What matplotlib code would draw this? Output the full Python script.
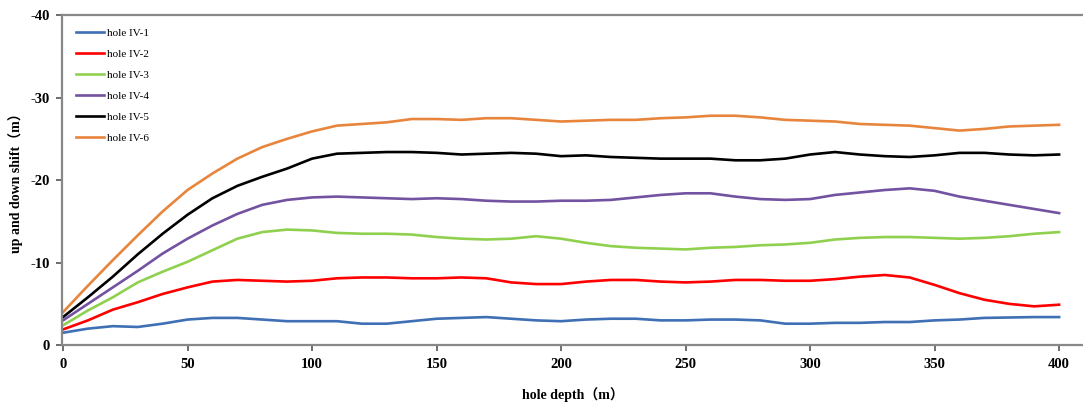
import numpy as np
import matplotlib.pyplot as plt

# 孔深 (m)
depth = np.arange(0, 401, 10)

hole_1 = [-1.5, -2.0, -2.3, -2.2, -2.6, -3.1, -3.3, -3.3, -3.1, -2.9,
          -2.9, -2.9, -2.6, -2.6, -2.9, -3.2, -3.3, -3.4, -3.2, -3.0,
          -2.9, -3.1, -3.2, -3.2, -3.0, -3.0, -3.1, -3.1, -3.0, -2.6,
          -2.6, -2.7, -2.7, -2.8, -2.8, -3.0, -3.1, -3.3, -3.35, -3.4, -3.4]
hole_2 = [-1.9, -3.0, -4.3, -5.2, -6.2, -7.0, -7.7, -7.9, -7.8, -7.7,
          -7.8, -8.1, -8.2, -8.2, -8.1, -8.1, -8.2, -8.1, -7.6, -7.4,
          -7.4, -7.7, -7.9, -7.9, -7.7, -7.6, -7.7, -7.9, -7.9, -7.8,
          -7.8, -8.0, -8.3, -8.5, -8.2, -7.3, -6.3, -5.5, -5.0, -4.7, -4.9]
hole_3 = [-2.4, -4.2, -5.8, -7.6, -8.9, -10.1, -11.5, -12.9, -13.7, -14.0,
          -13.9, -13.6, -13.5, -13.5, -13.4, -13.1, -12.9, -12.8, -12.9, -13.2,
          -12.9, -12.4, -12.0, -11.8, -11.7, -11.6, -11.8, -11.9, -12.1, -12.2,
          -12.4, -12.8, -13.0, -13.1, -13.1, -13.0, -12.9, -13.0, -13.2, -13.5, -13.7]
hole_4 = [-3.0, -5.0, -7.0, -9.0, -11.1, -12.9, -14.5, -15.9, -17.0, -17.6,
          -17.9, -18.0, -17.9, -17.8, -17.7, -17.8, -17.7, -17.5, -17.4, -17.4,
          -17.5, -17.5, -17.6, -17.9, -18.2, -18.4, -18.4, -18.0, -17.7, -17.6,
          -17.7, -18.2, -18.5, -18.8, -19.0, -18.7, -18.0, -17.5, -17.0, -16.5, -16.0]
hole_5 = [-3.4, -5.8, -8.3, -11.0, -13.5, -15.8, -17.8, -19.3, -20.4, -21.4,
          -22.6, -23.2, -23.3, -23.4, -23.4, -23.3, -23.1, -23.2, -23.3, -23.2,
          -22.9, -23.0, -22.8, -22.7, -22.6, -22.6, -22.6, -22.4, -22.4, -22.6,
          -23.1, -23.4, -23.1, -22.9, -22.8, -23.0, -23.3, -23.3, -23.1, -23.0, -23.1]
hole_6 = [-4.0, -7.2, -10.3, -13.3, -16.2, -18.8, -20.8, -22.6, -24.0, -25.0,
          -25.9, -26.6, -26.8, -27.0, -27.4, -27.4, -27.3, -27.5, -27.5, -27.3,
          -27.1, -27.2, -27.3, -27.3, -27.5, -27.6, -27.8, -27.8, -27.6, -27.3,
          -27.2, -27.1, -26.8, -26.7, -26.6, -26.3, -26.0, -26.2, -26.5, -26.6, -26.7]

labels = ['hole IV-1', 'hole IV-2', 'hole IV-3', 'hole IV-4', 'hole IV-5', 'hole IV-6']
colors = ['#3f6fb4', '#ff0000', '#8fd14f', '#7352a2', '#000000', '#e8853d']
series = [hole_1, hole_2, hole_3, hole_4, hole_5, hole_6]

plt.rcParams['font.family'] = ['Liberation Serif', 'Noto Sans CJK SC']
plt.rcParams['axes.unicode_minus'] = False

fig = plt.figure(figsize=(10.83, 4.07), dpi=100)
ax = fig.add_axes([0.0575, 0.152, 0.9425, 0.811])

for y, c, lab in zip(series, colors, labels):
    ax.plot(depth, y, color=c, lw=1.9, label=lab)

ax.set_xlim(-0.3, 409.6)
ax.set_ylim(0, -40)
ax.set_xticks([0, 50, 100, 150, 200, 250, 300, 350, 400])
ax.set_yticks([0, -10, -20, -30, -40])

for s in ['left', 'bottom', 'top']:
    ax.spines[s].set_color('#888888')
    ax.spines[s].set_linewidth(1.6)
ax.spines['right'].set_visible(False)
ax.tick_params(colors='#555555', width=1.2, length=4, labelsize=10.5,
               labelcolor='black', pad=5)
for t in ax.get_xticklabels() + ax.get_yticklabels():
    t.set_fontweight('bold')

ax.set_xlabel('hole depth（m）', fontsize=10, fontweight='bold', labelpad=12)
ax.set_ylabel('up and down shift（m）', fontsize=10, fontweight='bold', labelpad=5)

leg = ax.legend(loc='upper left', frameon=False, fontsize=8, handlelength=2.6,
                handletextpad=0.2, labelspacing=1.0, bbox_to_anchor=(0.0, 1.0),
                borderaxespad=0.8)

fig.savefig('out.png', dpi=100)
